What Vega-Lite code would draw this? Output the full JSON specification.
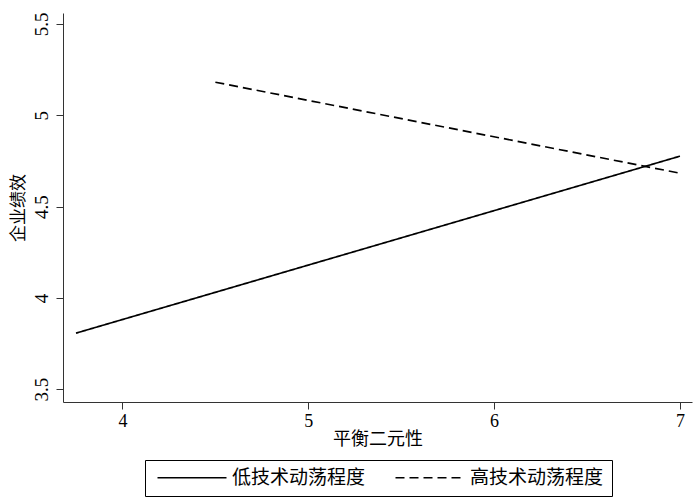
{
  "$schema": "https://vega.github.io/schema/vega-lite/v6.json",
  "width": 629,
  "height": 389,
  "autosize": {"type": "none"},
  "padding": {"left": 63, "top": 13, "right": 8, "bottom": 99},
  "background": "white",
  "config": {"view": {"stroke": null}},
  "data": {
    "values": [
      {"x": 3.75, "y": 3.807, "g": "低技术动荡程度"},
      {"x": 7.0, "y": 4.776, "g": "低技术动荡程度"},
      {"x": 4.5, "y": 5.181, "g": "高技术动荡程度"},
      {"x": 7.0, "y": 4.683, "g": "高技术动荡程度"}
    ]
  },
  "mark": {"type": "line", "color": "black", "strokeWidth": 1.7},
  "encoding": {
    "x": {
      "field": "x", "type": "quantitative",
      "scale": {"domain": [3.68, 7.065], "nice": false, "zero": false},
      "axis": {
        "values": [4, 5, 6, 7], "grid": false, "title": "平衡二元性",
        "domainColor": "#333", "tickColor": "#333", "tickSize": 7,
        "labelFont": "Liberation Serif", "labelFontSize": 18, "labelColor": "black", "labelPadding": 3,
        "titleFont": "Noto Sans CJK SC", "titleFontSize": 18, "titleFontWeight": "normal", "titleColor": "black", "titlePadding": 0
      }
    },
    "y": {
      "field": "y", "type": "quantitative",
      "scale": {"domain": [3.43, 5.56], "nice": false, "zero": false},
      "axis": {
        "values": [3.5, 4, 4.5, 5, 5.5], "format": "~g", "grid": false, "title": "企业绩效",
        "domainColor": "#333", "tickColor": "#333", "tickSize": 7,
        "labelAngle": -90, "labelAlign": "center", "labelBaseline": "bottom",
        "labelFont": "Liberation Serif", "labelFontSize": 19, "labelColor": "black", "labelPadding": 5,
        "titleFont": "Noto Sans CJK SC", "titleFontSize": 17, "titleFontWeight": "normal", "titleColor": "black", "titlePadding": 5
      }
    },
    "strokeDash": {
      "field": "g", "type": "nominal",
      "scale": {"domain": ["低技术动荡程度", "高技术动荡程度"], "range": [[1, 0], [9, 5]]},
      "legend": {
        "title": null, "orient": "none", "direction": "horizontal", "columns": 2,
        "legendX": 82, "legendY": 447,
        "fillColor": "white", "strokeColor": "black", "padding": 8,
        "symbolType": "M-1,0H12.8", "symbolSize": 100, "symbolStrokeWidth": 1.5, "symbolStrokeColor": "black",
        "labelFont": "Noto Sans CJK SC", "labelFontSize": 19, "labelColor": "black",
        "columnPadding": 25, "labelOffset": 60
      }
    },
    "detail": {"field": "g"}
  }
}
